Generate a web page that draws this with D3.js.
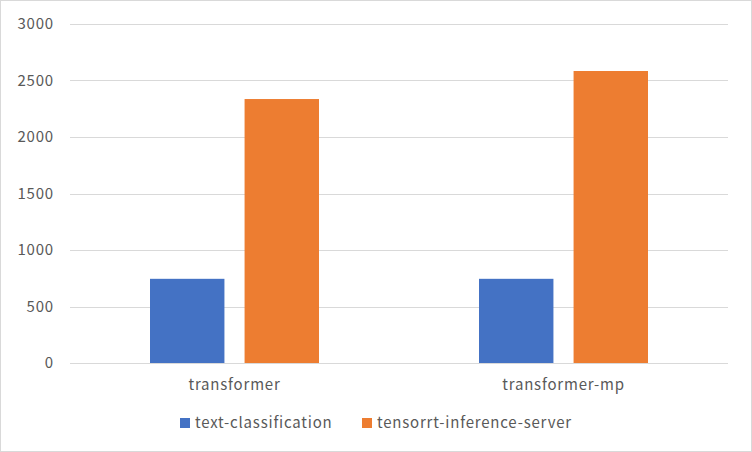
<!DOCTYPE html>
<html>
<head>
<meta charset="utf-8">
<script src="https://cdn.jsdelivr.net/npm/d3@7"></script>
<style>
  body { margin: 0; background: #fff; }
  text { font-family: "Noto Sans CJK SC", "Noto Sans", sans-serif; fill: #595959; letter-spacing: 0.8px; }
</style>
</head>
<body>
<div id="chart"></div>
<script>
// Chart data
const categories = ["transformer", "transformer-mp"];
const seriesNames = ["text-classification", "tensorrt-inference-server"];
const textClassification = [745, 745];
const tensorrtServer = [2336, 2584];
const yTicks = [0, 500, 1000, 1500, 2000, 2500, 3000];
const colors = ["#4472c4", "#ed7d31"];

const W = 752, H = 452;
const margin = { top: 24, right: 24, bottom: 89, left: 70 };
const width = W - margin.left - margin.right;
const height = H - margin.top - margin.bottom;

const svg = d3.select("#chart").append("svg")
  .attr("width", W).attr("height", H);

// Outer border
svg.append("rect")
  .attr("x", 0.5).attr("y", 0.5)
  .attr("width", W - 1).attr("height", H - 1)
  .attr("fill", "#fff").attr("stroke", "#d9d9d9");

const g = svg.append("g")
  .attr("transform", `translate(${margin.left},${margin.top})`);

const x0 = d3.scaleBand().domain(categories).range([0, width]);
const x1 = d3.scaleBand().domain(seriesNames).range([80, 249]).paddingInner(0.213);
const y = d3.scaleLinear().domain([0, 3000]).range([height, 0]);

// Gridlines
g.selectAll(".grid").data(yTicks).enter().append("line")
  .attr("x1", 0).attr("x2", width)
  .attr("y1", d => Math.round(y(d)) + 0.5).attr("y2", d => Math.round(y(d)) + 0.5)
  .attr("stroke", "#d9d9d9");

// Y tick labels
g.selectAll(".ylab").data(yTicks).enter().append("text")
  .attr("x", -16).attr("y", d => y(d))
  .attr("dy", "0.35em")
  .attr("text-anchor", "end")
  .style("font-size", "15px")
  .text(d => d);

// Bars
const rows = categories.map((c, i) => ({ cat: c, vals: [textClassification[i], tensorrtServer[i]] }));
const groups = g.selectAll(".cat").data(rows).enter().append("g")
  .attr("transform", d => `translate(${x0(d.cat)},0)`);

groups.selectAll("rect")
  .data(d => d.vals.map((v, j) => ({ name: seriesNames[j], v, j })))
  .enter().append("rect")
  .attr("x", d => x1(d.name))
  .attr("y", d => y(d.v))
  .attr("width", x1.bandwidth())
  .attr("height", d => height - y(d.v))
  .attr("fill", d => colors[d.j]);

// X labels
g.selectAll(".xlab").data(categories).enter().append("text")
  .attr("x", d => x0(d) + x0.bandwidth() / 2)
  .attr("y", height + 27)
  .attr("text-anchor", "middle")
  .style("font-size", "15px")
  .text(d => d);

// Legend
const legendX = [180, 362];
seriesNames.forEach((name, i) => {
  svg.append("rect")
    .attr("x", legendX[i]).attr("y", 418)
    .attr("width", 10).attr("height", 10)
    .attr("fill", colors[i]);
  svg.append("text")
    .attr("x", legendX[i] + 15).attr("y", 423)
    .attr("dy", "0.35em")
    .style("font-size", "15px")
    .text(name);
});
</script>
</body>
</html>
